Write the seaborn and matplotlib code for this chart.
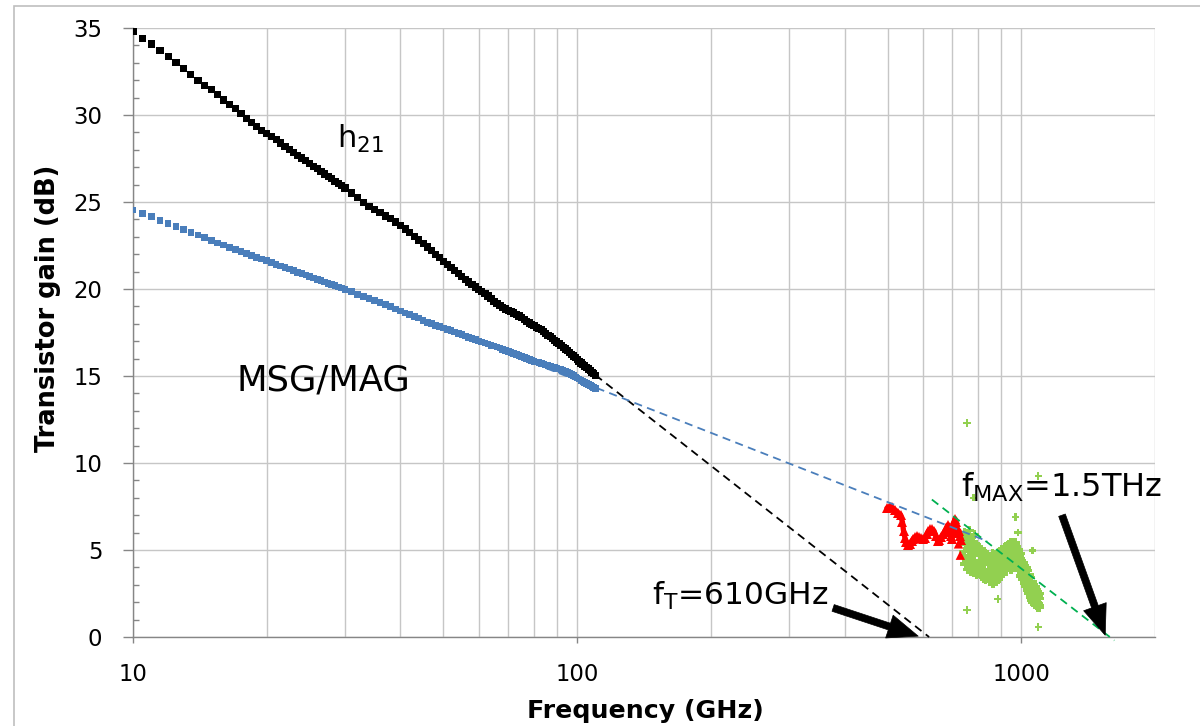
import numpy as np
import matplotlib
matplotlib.use('Agg')
import matplotlib.pyplot as plt
import seaborn as sns
from matplotlib.ticker import FixedLocator, NullFormatter, MultipleLocator, LogLocator, FixedFormatter
from matplotlib.patches import Rectangle

# ---------------- data ----------------
freq = np.concatenate([np.arange(10, 30, 0.5), np.arange(30, 111, 1.0)])

h21_db = [34.83, 34.4, 34.08, 33.7, 33.35, 33.0, 32.68, 32.33, 32.0, 31.7,
          31.45, 31.2, 30.86, 30.6, 30.37, 30.1, 29.8, 29.55, 29.35, 29.1,
          28.95, 28.76, 28.57, 28.39, 28.21, 28.03, 27.86, 27.69, 27.53, 27.37,
          27.21, 27.06, 26.91, 26.76, 26.61, 26.47, 26.33, 26.19, 26.06, 25.93,
          25.8, 25.52, 25.25, 24.98, 24.76, 24.56, 24.38, 24.2, 24.03, 23.85,
          23.65, 23.45, 23.25, 23.03, 22.82, 22.61, 22.41, 22.2, 22.0, 21.8,
          21.6, 21.42, 21.25, 21.08, 20.9, 20.72, 20.55, 20.4, 20.25, 20.12,
          19.98, 19.85, 19.72, 19.6, 19.45, 19.3, 19.18, 19.05, 18.95, 18.85,
          18.78, 18.7, 18.62, 18.55, 18.45, 18.35, 18.25, 18.15, 18.05, 17.97,
          17.9, 17.8, 17.72, 17.65, 17.55, 17.45, 17.35, 17.25, 17.15, 17.05,
          16.95, 16.85, 16.75, 16.65, 16.55, 16.45, 16.35, 16.25, 16.15, 16.05,
          15.95, 15.85, 15.75, 15.66, 15.57, 15.48, 15.4, 15.32, 15.22, 15.13, 15.05]

msg_db = [24.54, 24.35, 24.15, 23.95, 23.78, 23.6, 23.42, 23.25, 23.1, 22.95,
          22.8, 22.65, 22.52, 22.4, 22.28, 22.15, 22.05, 21.93, 21.82, 21.72,
          21.62, 21.52, 21.42, 21.33, 21.24, 21.15, 21.05, 20.96, 20.88, 20.8,
          20.72, 20.64, 20.56, 20.48, 20.4, 20.33, 20.27, 20.2, 20.12, 20.05,
          19.98, 19.85, 19.7, 19.56, 19.45, 19.33, 19.22, 19.1, 18.98, 18.85,
          18.74, 18.63, 18.53, 18.43, 18.33, 18.2, 18.08, 18.0, 17.92, 17.84,
          17.76, 17.68, 17.6, 17.52, 17.45, 17.38, 17.3, 17.22, 17.15, 17.08,
          17.02, 16.96, 16.9, 16.84, 16.77, 16.72, 16.66, 16.6, 16.54, 16.48,
          16.42, 16.36, 16.3, 16.24, 16.18, 16.12, 16.06, 16.0, 15.93, 15.88,
          15.84, 15.8, 15.76, 15.72, 15.68, 15.64, 15.6, 15.56, 15.52, 15.48,
          15.44, 15.4, 15.36, 15.32, 15.26, 15.2, 15.14, 15.08, 15.01, 14.94,
          14.88, 14.82, 14.75, 14.7, 14.64, 14.58, 14.52, 14.46, 14.4, 14.34, 14.28]

red_f = [498, 505, 512, 520, 528, 535, 540, 543, 547, 551, 556, 561, 566, 571, 576,
         582, 588, 594, 600, 606, 612, 618, 624, 630, 636, 642, 648, 654, 660, 666,
         672, 678, 684, 689, 694, 698, 702, 706, 709, 712, 716, 720, 724, 728, 732]
red_db = [7.4, 7.5, 7.45, 7.3, 7.15, 7.0, 6.6, 6.1, 5.7, 5.45, 5.3, 5.35, 5.5, 5.65, 5.75,
          5.8, 5.75, 5.7, 5.65, 5.7, 5.9, 6.1, 6.2, 6.2, 6.1, 5.8, 5.5, 5.6, 5.75, 5.9,
          6.05, 6.25, 6.45, 6.2, 5.8, 5.65, 6.1, 6.6, 6.8, 6.6, 6.2, 5.95, 6.1, 5.8, 5.6]
red_extra_f = [722, 729]
red_extra_db = [5.35, 4.7]

green_f = [740, 744, 748, 752, 756, 760, 764, 768, 772, 776, 780, 784, 788, 792, 796,
           800, 804, 808, 812, 816, 820, 824, 828, 832, 836, 840, 844, 848, 852, 856,
           860, 864, 868, 872, 876, 880, 884, 888, 892, 896, 900, 904, 908, 912, 916,
           920, 924, 928, 932, 936, 940, 944, 948, 952, 956, 960, 964, 968, 972, 976,
           980, 984, 988, 992, 996, 1000, 1004, 1008, 1012, 1016, 1020, 1024, 1028, 1032, 1036,
           1040, 1044, 1048, 1052, 1056, 1060, 1064, 1068, 1072, 1076, 1080, 1084, 1088, 1092, 1096, 1100]
green_db_a = [5.6, 6.0, 5.3, 5.8, 5.1, 5.5, 6.1, 5.2, 5.7, 5.0, 5.4, 5.9, 5.1, 5.3, 4.9,
              5.2, 4.8, 5.0, 4.7, 4.9, 4.6, 4.9, 4.5, 4.8, 4.4, 4.7, 4.3, 4.6, 4.2, 4.5,
              4.8, 4.3, 4.6, 4.1, 4.4, 4.7, 4.2, 4.5, 4.9, 4.4, 4.7, 5.0, 4.6, 4.9, 5.1,
              4.7, 5.2, 4.8, 5.0, 5.3, 4.9, 5.1, 5.4, 5.0, 5.3, 4.9, 5.2, 5.4, 5.0, 5.2,
              4.8, 5.0, 4.6, 4.8, 4.5, 4.4, 4.1, 4.3, 3.9, 4.1, 3.8, 4.0, 3.6, 3.8, 3.4,
              3.6, 3.2, 3.4, 3.0, 3.2, 2.8, 3.0, 2.7, 2.9, 2.5, 2.7, 2.4, 2.6, 2.3, 2.5, 2.2]
green_db_b = [4.6, 4.9, 4.2, 4.5, 3.9, 4.7, 4.3, 3.8, 4.6, 4.1, 3.7, 4.4, 4.0, 3.6, 4.2,
              3.9, 4.4, 3.7, 4.1, 3.5, 3.9, 3.4, 3.8, 3.3, 3.7, 3.5, 3.9, 3.2, 3.6, 3.3,
              3.8, 3.1, 3.5, 3.4, 3.7, 3.2, 3.6, 3.3, 3.8, 3.5, 3.9, 4.1, 3.8, 4.2, 3.9,
              4.3, 4.0, 3.8, 4.2, 4.4, 4.0, 4.3, 3.9, 4.4, 4.1, 4.5, 4.0, 4.3, 4.6, 4.1,
              4.4, 3.9, 4.2, 3.8, 4.0, 3.5, 3.7, 3.3, 3.5, 3.1, 3.3, 2.9, 3.1, 2.7, 2.9,
              2.5, 2.7, 2.3, 2.5, 2.1, 2.3, 2.0, 2.2, 1.9, 2.1, 1.8, 2.0, 1.7, 1.9, 1.8, 1.7]
green_out_f = [755, 1092, 780, 970, 983, 1060, 885, 755, 1092]
green_out_db = [12.3, 9.25, 8.0, 6.9, 6.0, 4.96, 2.18, 1.55, 0.57]

ft_fit_f = [110, 620]
ft_fit_db = [15.05, 0.0]
mag_fit_f = [70, 840]
mag_fit_db = [16.3, 5.5]
fmax_fit_f = [629, 1620]
fmax_fit_db = [7.9, -0.2]

ft_arrow_tail = (377, 1.67)
ft_arrow_head = (586, 0.05)
fmax_arrow_tail = (1235, 7.0)
fmax_arrow_head = (1545, 0.1)

x_ticks = [10, 100, 1000]
x_tick_labels = ['10', '100', '1000']
y_ticks = [0, 5, 10, 15, 20, 25, 30, 35]

# ---------------- figure ----------------
sns.set_theme(style='white')
plt.rcParams['font.family'] = ['DejaVu Sans']
plt.rcParams['text.color'] = 'black'
plt.rcParams['axes.labelcolor'] = 'black'
plt.rcParams['xtick.color'] = 'black'
plt.rcParams['ytick.color'] = 'black'

W, H = 1200, 726
fig = plt.figure(figsize=(12, 7.26), dpi=100)
ax = fig.add_axes([133 / W, 1 - 637 / H, 1022 / W, 609 / H])

grid_c = '#c6c6c6'
ax.set_xscale('log')
ax.set_xlim(10, 2000)
ax.set_ylim(0, 35)

ax.xaxis.set_major_locator(FixedLocator(x_ticks))
ax.xaxis.set_major_formatter(FixedFormatter(x_tick_labels))
ax.xaxis.set_minor_locator(LogLocator(base=10, subs=np.arange(2, 10)))
ax.xaxis.set_minor_formatter(NullFormatter())
ax.yaxis.set_major_locator(FixedLocator(y_ticks))
ax.yaxis.set_minor_locator(MultipleLocator(1))

ax.grid(True, which='major', axis='both', color=grid_c, lw=1.0)
ax.grid(True, which='minor', axis='x', color=grid_c, lw=1.0)
ax.set_axisbelow(True)

for s in ['top', 'right']:
    ax.spines[s].set_visible(False)
for s in ['left', 'bottom']:
    ax.spines[s].set_color('#868686')
    ax.spines[s].set_linewidth(1.0)

ax.tick_params(axis='y', which='major', direction='out', length=7, width=1,
               color='#868686', labelcolor='black', labelsize=16.4, pad=15, left=True)
ax.tick_params(axis='y', which='minor', direction='in', length=4, width=1,
               color='#868686', left=True)
ax.tick_params(axis='x', which='major', direction='out', length=4.5, width=1,
               color='#868686', labelcolor='black', labelsize=16.4, pad=14, bottom=True)
ax.tick_params(axis='x', which='minor', length=0)

# measured data
sns.scatterplot(x=freq, y=h21_db, ax=ax, marker='s', s=27, color='black',
                edgecolor='none', linewidth=0, zorder=3, legend=False)
sns.scatterplot(x=freq, y=msg_db, ax=ax, marker='s', s=23, color='#4A7EBB',
                edgecolor='none', linewidth=0, zorder=3, legend=False)
sns.scatterplot(x=green_f, y=green_db_a, ax=ax, marker='P', s=48, color='#92D050',
                edgecolor='none', linewidth=0, zorder=3, legend=False)
sns.scatterplot(x=green_f, y=green_db_b, ax=ax, marker='P', s=48, color='#92D050',
                edgecolor='none', linewidth=0, zorder=3, legend=False)
sns.scatterplot(x=green_out_f, y=green_out_db, ax=ax, marker='P', s=28, color='#92D050',
                edgecolor='none', linewidth=0, zorder=3, legend=False)
ax.plot(red_f, red_db, color='#FF0000', lw=3.8, marker='^', ms=6.5,
        markeredgewidth=0, zorder=4)
sns.scatterplot(x=red_extra_f, y=red_extra_db, ax=ax, marker='^', s=45, color='#FF0000',
                edgecolor='none', linewidth=0, zorder=4, legend=False)

# extrapolation lines
ax.plot(ft_fit_f, ft_fit_db, color='black', lw=1.3, dashes=(4.5, 3), zorder=5, clip_on=False)
ax.plot(mag_fit_f, mag_fit_db, color='#4A7EBB', lw=1.3, dashes=(4.5, 3), zorder=5)
ax.plot(fmax_fit_f, fmax_fit_db, color='#00B050', lw=1.3, dashes=(4.5, 3), zorder=5, clip_on=False)

# annotations
arrow_style = 'simple,head_length=0.95,head_width=0.75,tail_width=0.22'
for tail, head in [(ft_arrow_tail, ft_arrow_head), (fmax_arrow_tail, fmax_arrow_head)]:
    ax.annotate('', xy=head, xytext=tail,
                arrowprops=dict(arrowstyle=arrow_style, mutation_scale=23, fc='black',
                                ec='black', lw=0.5, shrinkA=0, shrinkB=0), zorder=6)

def axfrac(xp, yp):
    return ((xp - 133) / 1022, (637 - yp) / 609)

ax.text(*axfrac(337, 148), r'h$_\mathregular{21}$', transform=ax.transAxes,
        fontsize=22, ha='left', va='baseline', color='black')
ax.text(*axfrac(237, 390), 'MSG/MAG', transform=ax.transAxes,
        fontsize=25.5, ha='left', va='baseline', color='black')
ax.text(*axfrac(652, 605), r'f$_\mathregular{T}$=610GHz', transform=ax.transAxes,
        fontsize=22.5, ha='left', va='baseline', color='black')
ax.text(*axfrac(961, 497), r'f$_\mathregular{MAX}$=1.5THz', transform=ax.transAxes,
        fontsize=23, ha='left', va='baseline', color='black')

fig.text(48 / W, 1 - 308 / H, 'Transistor gain (dB)', rotation=90, ha='center',
         va='center', fontsize=18.5, fontweight='bold', color='black')
fig.text(645 / W, 1 - 711 / H, 'Frequency (GHz)', ha='center', va='center',
         fontsize=18.2, fontweight='bold', color='black')

# chart border
fig.patches.append(Rectangle((14 / W, -0.5), 2, 1.5 - 6 / H, transform=fig.transFigure,
                             fill=False, ec='#bfbfbf', lw=1.2))

fig.savefig('out.png', dpi=100)
